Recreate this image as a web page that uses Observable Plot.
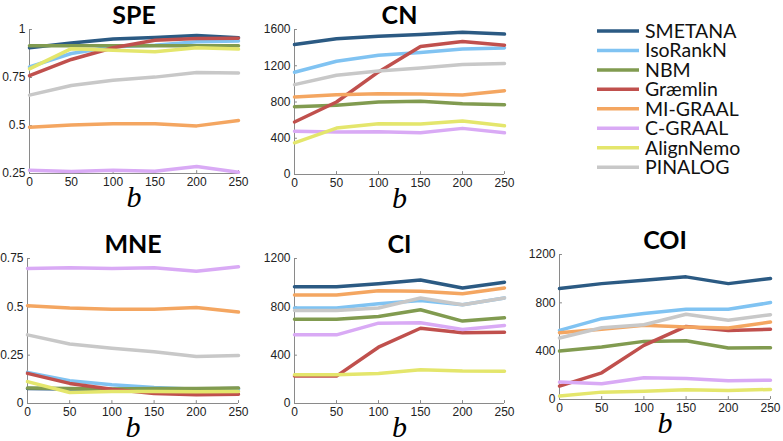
<!DOCTYPE html>
<html>
<head>
<meta charset="utf-8">
<script src="https://cdn.jsdelivr.net/npm/d3@7"></script>
<script src="https://cdn.jsdelivr.net/npm/@observablehq/plot@0.6"></script>
<style>
  html, body { margin: 0; padding: 0; background: #fff; }
  #root { position: relative; width: 783px; height: 441px; overflow: hidden; background: #fff; }
  #root > svg, #root > div { position: absolute; }
</style>
</head>
<body>
<div id="root"></div>
<script>
const methods = ["SMETANA", "IsoRankN", "NBM", "Græmlin", "MI-GRAAL", "C-GRAAL", "AlignNemo", "PINALOG"];
const colors = ["#2b5a83", "#80c3f2", "#819b50", "#c0504d", "#f4a661", "#d9aaf5", "#e4e66c", "#c8c8c8"];
const bValues = [0, 50, 100, 150, 200, 250];

// values per method, in methods order
const speValues = [
  [0.905, 0.93, 0.95, 0.958, 0.969, 0.957],
  [0.805, 0.875, 0.91, 0.918, 0.936, 0.94],
  [0.915, 0.915, 0.915, 0.915, 0.915, 0.915],
  [0.76, 0.844, 0.905, 0.944, 0.953, 0.955],
  [0.491, 0.502, 0.509, 0.509, 0.498, 0.526],
  [0.267, 0.26, 0.267, 0.262, 0.286, 0.257],
  [0.795, 0.9, 0.892, 0.884, 0.905, 0.898],
  [0.658, 0.708, 0.736, 0.752, 0.776, 0.773]
];
const cnValues = [
  [1434, 1497, 1526, 1545, 1571, 1549],
  [1128, 1250, 1316, 1346, 1386, 1397],
  [748, 763, 800, 807, 782, 771],
  [579, 800, 1132, 1412, 1467, 1427],
  [855, 881, 892, 889, 877, 925],
  [476, 468, 472, 461, 509, 461],
  [350, 512, 560, 557, 590, 538],
  [992, 1095, 1143, 1176, 1213, 1224]
];
const mneValues = [
  [0.078, 0.075, 0.073, 0.075, 0.075, 0.078],
  [0.161, 0.118, 0.097, 0.083, 0.074, 0.071],
  [0.080, 0.078, 0.075, 0.078, 0.078, 0.080],
  [0.156, 0.104, 0.074, 0.052, 0.045, 0.048],
  [0.506, 0.494, 0.488, 0.488, 0.497, 0.473],
  [0.698, 0.702, 0.698, 0.702, 0.684, 0.707],
  [0.113, 0.057, 0.062, 0.062, 0.061, 0.062],
  [0.355, 0.308, 0.286, 0.268, 0.243, 0.248]
];
const ciValues = [
  [967, 967, 992, 1022, 956, 1003],
  [790, 790, 826, 853, 817, 873],
  [698, 698, 720, 776, 682, 709],
  [227, 227, 466, 623, 585, 590],
  [898, 898, 934, 928, 909, 956],
  [568, 568, 665, 668, 612, 646],
  [238, 238, 249, 280, 269, 266],
  [770, 770, 790, 873, 817, 873]
];
const coiValues = [
  [918, 959, 987, 1015, 959, 1001],
  [572, 669, 711, 747, 747, 802],
  [401, 434, 481, 487, 426, 429],
  [111, 221, 448, 605, 572, 581],
  [553, 581, 614, 600, 592, 641],
  [144, 130, 180, 174, 155, 160],
  [28, 61, 69, 80, 75, 83],
  [509, 594, 619, 705, 655, 702]
];

const panelTitles = ["SPE", "CN", "MNE", "CI", "COI"];
const panelValues = [speValues, cnValues, mneValues, ciValues, coiValues];
const panelDomains = [[0.25, 1], [0, 1600], [0, 0.75], [0, 1200], [0, 1200]];
const panelTicks = [[0.25, 0.5, 0.75, 1], [0, 400, 800, 1200, 1600], [0, 0.25, 0.5, 0.75], [0, 400, 800, 1200], [0, 400, 800, 1200]];

// layout (pixel frame of each panel's plotting area)
const layout = [
  {x0: 29, x1: 238, yT: 29, yB: 173},
  {x0: 294, x1: 504, yT: 29, yB: 174},
  {x0: 27, x1: 238, yT: 258, yB: 403},
  {x0: 294, x1: 504, yT: 258, yB: 403},
  {x0: 559, x1: 770, yT: 254, yB: 399}
];

const root = document.getElementById("root");
const ml = 45, mr = 13, mt = 40, mb = 46;
const axisGray = "#8a8a8a";

panelTitles.forEach((title, p) => {
  const L = layout[p];
  const dom = panelDomains[p];
  const rows = [];
  methods.forEach((m, i) => {
    bValues.forEach((b, j) => rows.push({method: m, b, v: panelValues[p][i][j]}));
  });
  const ySpan = dom[1] - dom[0];
  const chart = Plot.plot({
    width: ml + (L.x1 - L.x0) + mr,
    height: mt + (L.yB - L.yT) + mb,
    marginLeft: ml, marginRight: mr, marginTop: mt, marginBottom: mb,
    style: {fontFamily: "'Liberation Sans', Arial, sans-serif", fontSize: "12px", color: "#222", background: "transparent", overflow: "visible"},
    x: {domain: [0, 250], ticks: bValues, tickSize: 0, tickPadding: 4, label: null},
    y: {domain: dom, ticks: panelTicks[p], tickSize: 0, tickPadding: 4, label: null, tickFormat: d => String(d)},
    color: {domain: methods, range: colors},
    marks: [
      Plot.ruleX([0], {y1: dom[0], y2: dom[1], stroke: axisGray, strokeWidth: 1}),
      Plot.ruleY([dom[0]], {x1: 0, x2: 250, stroke: axisGray, strokeWidth: 1}),
      Plot.ruleY(panelTicks[p], {x1: 0, x2: 3.5, stroke: axisGray}),
      Plot.ruleX(bValues, {y1: dom[0], y2: dom[0] + ySpan * 0.02, stroke: axisGray}),
      Plot.line(rows, {x: "b", y: "v", z: "method", stroke: "method", strokeWidth: 3.5, strokeLinejoin: "round"}),
      Plot.text([title], {frameAnchor: "top", dy: -6, lineAnchor: "bottom", fontSize: 25, fontWeight: "bold", fontFamily: "Lato, 'Open Sans', sans-serif", fill: "#000"}),
      Plot.text(["b"], {frameAnchor: "bottom", dy: 33, lineAnchor: "bottom", fontSize: 30, fontStyle: "italic", fontFamily: "'Liberation Serif', 'DejaVu Serif', serif", fill: "#000"})
    ]
  });
  chart.style.left = (L.x0 - ml) + "px";
  chart.style.top = (L.yT - mt) + "px";
  root.appendChild(chart);
});

// legend
const leg = d3.select(root).append("svg")
  .attr("width", 783).attr("height", 441)
  .style("left", "0px").style("top", "0px");
methods.forEach((m, i) => {
  const y = 31 + i * 19.45;
  leg.append("line").attr("x1", 597).attr("x2", 639).attr("y1", y).attr("y2", y)
    .attr("stroke", colors[i]).attr("stroke-width", 3.5);
  leg.append("text").attr("x", 645).attr("y", y).attr("dy", "0.36em")
    .attr("font-family", "Lato, sans-serif").attr("font-size", 19.5).attr("fill", "#111")
    .text(m);
});
</script>
</body>
</html>
